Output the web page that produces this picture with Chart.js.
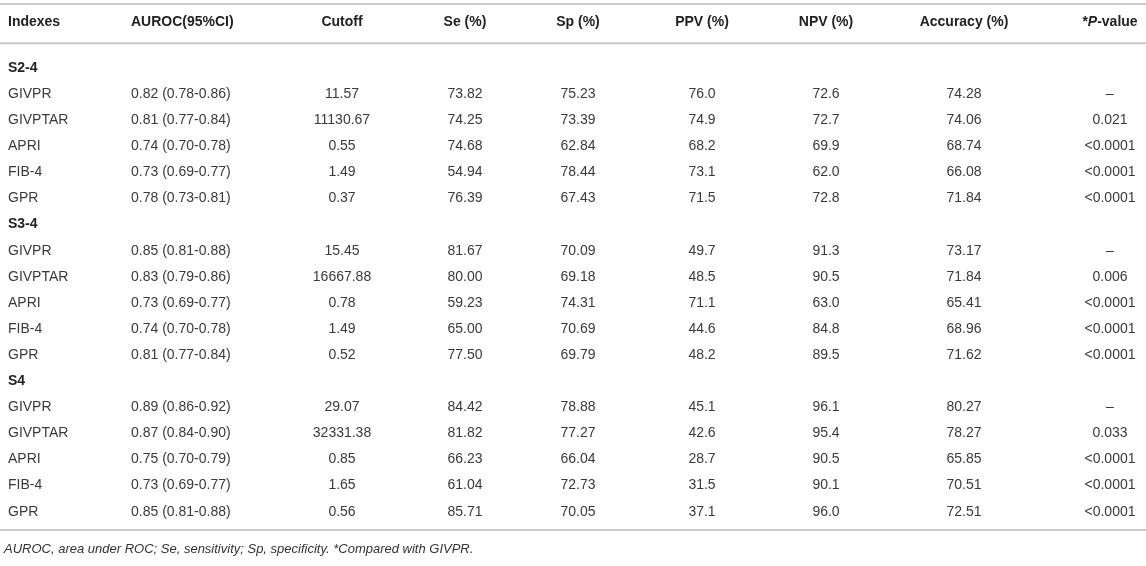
<!DOCTYPE html>
<html>
<head>
<meta charset="utf-8">
<script src="https://cdn.jsdelivr.net/npm/chart.js@4/dist/chart.umd.min.js"></script>
<style>
  html, body { margin: 0; padding: 0; background: #fff; }
  canvas { display: block; }
</style>
</head>
<body>
<canvas id="tableChart" width="1146" height="566"></canvas>
<script>
// table content
const headers = ['Indexes', 'AUROC(95%CI)', 'Cutoff', 'Se (%)', 'Sp (%)', 'PPV (%)', 'NPV (%)', 'Accuracy (%)', '*P-value'];
const groups = ['S2-4', 'S3-4', 'S4'];
const indexNames = ['GIVPR', 'GIVPTAR', 'APRI', 'FIB-4', 'GPR'];

const auroc = ['0.82 (0.78-0.86)', '0.81 (0.77-0.84)', '0.74 (0.70-0.78)', '0.73 (0.69-0.77)', '0.78 (0.73-0.81)',
               '0.85 (0.81-0.88)', '0.83 (0.79-0.86)', '0.73 (0.69-0.77)', '0.74 (0.70-0.78)', '0.81 (0.77-0.84)',
               '0.89 (0.86-0.92)', '0.87 (0.84-0.90)', '0.75 (0.70-0.79)', '0.73 (0.69-0.77)', '0.85 (0.81-0.88)'];
const cutoff = ['11.57', '11130.67', '0.55', '1.49', '0.37',
                '15.45', '16667.88', '0.78', '1.49', '0.52',
                '29.07', '32331.38', '0.85', '1.65', '0.56'];
const se  = [73.82, 74.25, 74.68, 54.94, 76.39, 81.67, 80.00, 59.23, 65.00, 77.50, 84.42, 81.82, 66.23, 61.04, 85.71];
const sp  = [75.23, 73.39, 62.84, 78.44, 67.43, 70.09, 69.18, 74.31, 70.69, 69.79, 78.88, 77.27, 66.04, 72.73, 70.05];
const ppv = [76.0, 74.9, 68.2, 73.1, 71.5, 49.7, 48.5, 71.1, 44.6, 48.2, 45.1, 42.6, 28.7, 31.5, 37.1];
const npv = [72.6, 72.7, 69.9, 62.0, 72.8, 91.3, 90.5, 63.0, 84.8, 89.5, 96.1, 95.4, 90.5, 90.1, 96.0];
const acc = [74.28, 74.06, 68.74, 66.08, 71.84, 73.17, 71.84, 65.41, 68.96, 71.62, 80.27, 78.27, 65.85, 70.51, 72.51];
const pval = ['–', '0.021', '<0.0001', '<0.0001', '<0.0001',
              '–', '0.006', '<0.0001', '<0.0001', '<0.0001',
              '–', '0.033', '<0.0001', '<0.0001', '<0.0001'];
const footnote = 'AUROC, area under ROC; Se, sensitivity; Sp, specificity. *Compared with GIVPR.';

// layout (x in px units, y in row units)
const colX = [8, 131, 342, 465, 578, 702, 826, 964, 1110];
const colAlign = ['left', 'left', 'center', 'center', 'center', 'center', 'center', 'center', 'center'];
const rowH = 26.1, firstRowPx = 68;
const headerRow = -1.76, ruleRows = [-2.45, -0.95, 17.7], footRow = 18.45;

const FONT = '"Liberation Sans", Arial, Helvetica, sans-serif';
const SIZE = 14;

// build rows: group label then five indexes
const rowOf = i => Math.floor(i / 5) * 6 + 1 + (i % 5);
const columns = [
  indexNames.concat(indexNames, indexNames),
  auroc,
  cutoff,
  se.map(v => v.toFixed(2)),
  sp.map(v => v.toFixed(2)),
  ppv.map(v => v.toFixed(1)),
  npv.map(v => v.toFixed(1)),
  acc.map(v => v.toFixed(2)),
  pval
];

const datasets = columns.map((col, c) => ({
  label: headers[c],
  data: col.map((t, i) => ({ x: colX[c], y: rowOf(i) })),
  texts: col,
  align: colAlign[c],
  pointRadius: 0,
  kind: 'cell'
}));
datasets.push({
  label: 'groups',
  data: groups.map((g, i) => ({ x: colX[0], y: i * 6 })),
  texts: groups,
  align: 'left',
  pointRadius: 0,
  kind: 'group'
});
datasets.push({
  label: 'header',
  data: headers.map((h, c) => ({ x: colX[c], y: headerRow })),
  texts: headers,
  aligns: colAlign,
  pointRadius: 0,
  kind: 'header'
});

const tablePlugin = {
  id: 'tableText',
  afterDatasetsDraw(chart) {
    const ctx = chart.ctx;
    const xs = chart.scales.x, ys = chart.scales.y;
    ctx.save();

    // horizontal rules
    ctx.strokeStyle = '#c9c9c9';
    ctx.lineWidth = 2;
    ruleRows.forEach(r => {
      const y = ys.getPixelForValue(r);
      ctx.beginPath();
      ctx.moveTo(xs.left, y);
      ctx.lineTo(xs.right, y);
      ctx.stroke();
    });

    ctx.textBaseline = 'middle';
    chart.data.datasets.forEach((ds, d) => {
      const meta = chart.getDatasetMeta(d);
      meta.data.forEach((pt, i) => {
        const txt = ds.texts[i];
        if (ds.kind === 'cell') {
          ctx.font = SIZE + 'px ' + FONT;
          ctx.fillStyle = '#3a3a3a';
          ctx.textAlign = ds.align;
          ctx.fillText(txt, pt.x, pt.y);
        } else if (ds.kind === 'group') {
          ctx.font = 'bold ' + SIZE + 'px ' + FONT;
          ctx.fillStyle = '#222';
          ctx.textAlign = 'left';
          ctx.fillText(txt, pt.x, pt.y);
        } else {
          ctx.font = 'bold ' + SIZE + 'px ' + FONT;
          ctx.fillStyle = '#222';
          if (txt === '*P-value') {
            // mixed style: "*" + italic "P" + "-value"
            const parts = [['*', 'bold '], ['P', 'italic bold '], ['-value', 'bold ']];
            let w = 0;
            parts.forEach(p => { ctx.font = p[1] + SIZE + 'px ' + FONT; w += ctx.measureText(p[0]).width; });
            let x = pt.x - w / 2;
            ctx.textAlign = 'left';
            parts.forEach(p => {
              ctx.font = p[1] + SIZE + 'px ' + FONT;
              ctx.fillText(p[0], x, pt.y);
              x += ctx.measureText(p[0]).width;
            });
          } else {
            ctx.textAlign = ds.aligns[i];
            ctx.fillText(txt, pt.x, pt.y);
          }
        }
      });
    });

    // footnote
    ctx.font = 'italic 13px ' + FONT;
    ctx.fillStyle = '#333';
    ctx.textAlign = 'left';
    ctx.fillText(footnote, xs.getPixelForValue(4), ys.getPixelForValue(footRow));
    ctx.restore();
  }
};

new Chart(document.getElementById('tableChart'), {
  type: 'scatter',
  data: { datasets: datasets },
  options: {
    responsive: false,
    animation: false,
    layout: { padding: 0 },
    scales: {
      x: { type: 'linear', min: 0, max: 1146, display: false },
      y: { type: 'linear', reverse: true, min: -firstRowPx / rowH, max: (566 - firstRowPx) / rowH, display: false }
    },
    plugins: { legend: { display: false }, tooltip: { enabled: false } },
    events: []
  },
  plugins: [tablePlugin]
});
</script>
</body>
</html>
